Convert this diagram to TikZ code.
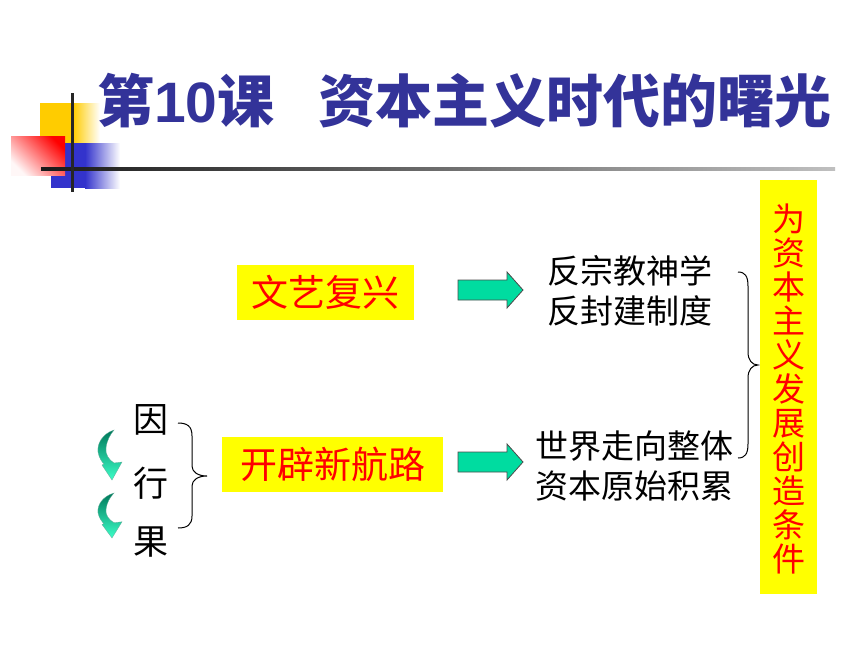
\documentclass[tikz,border=0pt]{standalone}
\usepackage{fontspec}
\newfontfamily\cjk{Noto Sans CJK SC}
\newfontfamily\arial{Liberation Sans}
\definecolor{titleblue}{RGB}{51,51,153}
\definecolor{boxyellow}{RGB}{255,255,0}
\definecolor{decoyellow}{RGB}{255,204,0}
\definecolor{decoblue}{RGB}{51,51,204}
\definecolor{mint}{RGB}{0,220,160}
\definecolor{darkmint}{RGB}{0,120,90}
\definecolor{lightmint}{RGB}{60,255,200}
\tikzset{
  redlabel/.style={fill=boxyellow, text=red, inner sep=0pt, font=\cjk\fontsize{37}{40}\selectfont},
  blacktext/.style={anchor=base, inner sep=0pt, font=\cjk\fontsize{33}{36}\selectfont},
  blockarrow/.pic={
    \filldraw[fill=mint, draw=black!70, line width=0.8pt]
      (-32.5,-10) -- (16.5,-10) -- (16.5,-18) -- (32.5,0) -- (16.5,18) -- (16.5,10) -- (-32.5,10) -- cycle;
  },
  bracestyle/.style={draw=black, line width=1pt},
  curvarr/.pic={
    \shade[top color=darkmint, bottom color=lightmint, draw=darkmint!60, line width=0.3pt]
      (16,0) .. controls (4,4) and (-1,14) .. (0,22) .. controls (1,28) and (4,32) .. (6,34)
      -- (4,35) -- (14,50) -- (24,32) -- (16,33)
      .. controls (11,30) and (7,24) .. (8,18) .. controls (9,10) and (12,5) .. (16,0) -- cycle;
  }
}
\begin{document}
\begin{tikzpicture}[x=1pt,y=-1pt]
\useasboundingbox[fill=white] (0,0) rectangle (860,645);
% decoration top-left
\fill[decoyellow] (40,103) rectangle (73,143);
\shade[left color=decoyellow, right color=white] (73,103) rectangle (100,143);
\fill[decoblue] (51,143) rectangle (85,188);
\shade[left color=decoblue, right color=white] (85,143) rectangle (120,188);
\shade[shading=axis, top color=red, bottom color=red!3, shading angle=-45] (11,136) rectangle (65,175);
\shade[left color=black!90, right color=black!25] (41,167.5) rectangle (835,170.5);
\fill[black!85] (70.5,93) rectangle (73.5,192);
% title
\node[anchor=base west, inner sep=0pt, text=titleblue, font=\cjk\bfseries\fontsize{57}{60}\selectfont]
  (title1) at (97,122) {第{\arial\bfseries 10}课};
\node[anchor=base west, inner sep=0pt, text=titleblue, font=\cjk\bfseries\fontsize{57}{60}\selectfont]
  (title2) at (318,122) {资本主义时代的曙光};
% yellow label boxes
\node[redlabel, minimum width=177pt, minimum height=55pt] (wy) at (325.5,292.5) {文艺复兴};
\node[redlabel, minimum width=221pt, minimum height=55pt] (hl) at (332.5,464.5) {开辟新航路};
% block arrows
\pic at (490.5,290) {blockarrow};
\pic at (490.5,462) {blockarrow};
% result texts
\node[blacktext] (r1) at (630,283) {反宗教神学};
\node[blacktext] (r2) at (630,323) {反封建制度};
\node[blacktext] (r3) at (634,458) {世界走向整体};
\node[blacktext] (r4) at (634,498) {资本原始积累};
% right brace
\draw[bracestyle] (738,272) .. controls (745,272) and (748,276) .. (748,286) -- (748,352)
  .. controls (748,360) and (752,365) .. (758,365)
  .. controls (752,365) and (748,370) .. (748,378) -- (748,444)
  .. controls (748,454) and (745,458) .. (738,458);
% vertical result box
\node[fill=boxyellow, minimum width=57pt, minimum height=414pt, inner sep=0pt] (vbox) at (788.5,387) {};
\node[text=red, align=center, inner sep=0pt, font=\cjk\fontsize{33}{34}\selectfont] (vtext) at (789,389)
  {为\\资\\本\\主\\义\\发\\展\\创\\造\\条\\件};
% left column
\node[blacktext, font=\cjk\fontsize{35}{38}\selectfont] (yin) at (151,432) {因};
\node[blacktext, font=\cjk\fontsize{35}{38}\selectfont] (xing) at (151,496) {行};
\node[blacktext, font=\cjk\fontsize{35}{38}\selectfont] (guo) at (151,554) {果};
\pic at (98,430) {curvarr};
\pic[yscale=0.9] at (98,493) {curvarr};
% left brace
\draw[bracestyle] (178,423) .. controls (187,423) and (192,426) .. (192,436) -- (192,466)
  .. controls (192,472) and (198,476) .. (207,476)
  .. controls (198,476) and (192,480) .. (192,486) -- (192,516)
  .. controls (192,525) and (187,528) .. (178,528);
\end{tikzpicture}
\end{document}
